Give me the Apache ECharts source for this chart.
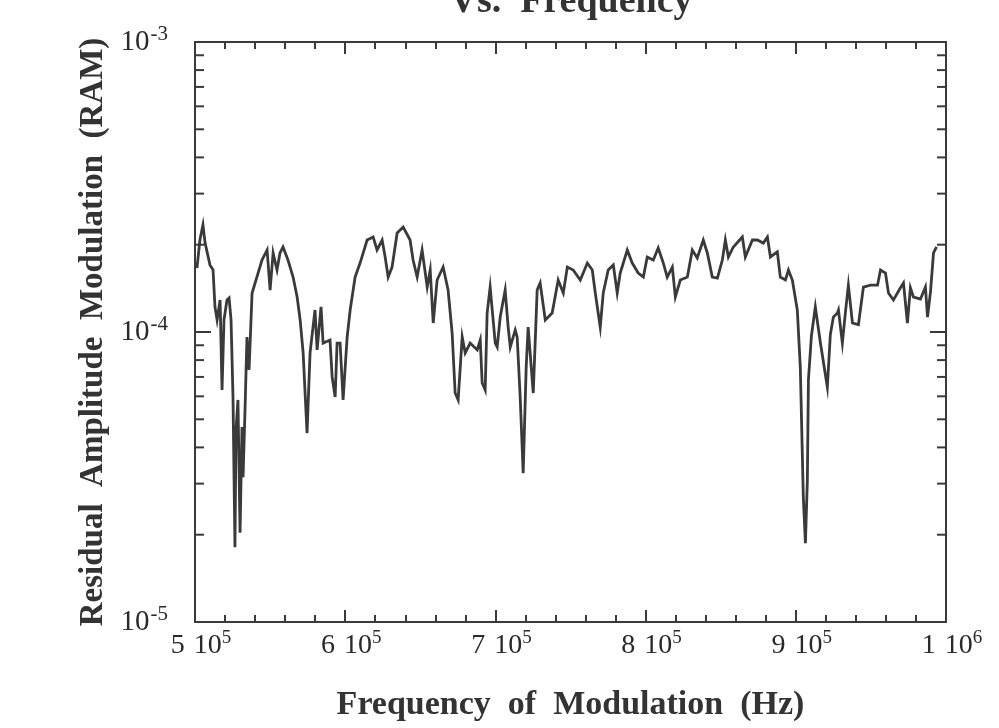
<!DOCTYPE html>
<html><head><meta charset="utf-8">
<script src="https://cdn.jsdelivr.net/npm/echarts@6/dist/echarts.min.js"></script>
<style>html,body{margin:0;padding:0;background:#fff}#c{width:999px;height:728px}</style>
</head><body><div id="c"></div>
<script>
// ---- data ----
const freqHz = [
 501300,503300,505300,506700,510000,512000,513300,514700,516700,518000,
 519300,521300,522700,524000,525300,526600,527300,528600,530000,531300,
 532000,533300,534600,536000,538000,542000,544600,548000,550000,552000,
 554600,556600,558600,561900,565300,568000,570000,572000,574600,576600,
 579900,581300,583900,585300,589900,591300,593300,594600,596600,598600,
 601300,603300,606600,609900,614600,618600,621200,624600,626600,628600,
 631200,634600,638600,643200,645200,647900,651200,654600,656600,658600,
 661200,665200,668500,671200,673200,675200,677900,679900,683200,687900,
 689900,691200,693200,694500,696500,699900,701200,703200,706500,708500,
 709900,713200,714500,716500,718500,720500,721800,725200,727800,729800,
 733200,737800,741800,745200,747900,751800,756500,761200,764500,766500,
 769800,771800,775100,778500,781100,783100,787800,791100,795100,798500,
 801100,805100,808400,811800,814400,817800,819800,823100,827800,831100,
 834400,838400,841100,844400,847800,851100,853100,855100,858400,864400,
 866400,871100,874400,878400,881100,883100,887700,889700,893100,895100,
 897700,901000,903000,905000,906400,907700,908400,910400,913000,916400,
 921000,923000,925000,927700,928400,931000,933000,935000,937700,941700,
 945000,949700,954400,956400,959700,961700,965000,969700,971700,974300,
 976300,978300,983000,986300,987700,989700,991700,993700
];
const ram = [
 1.66e-4,2.08e-4,2.34e-4,2.03e-4,1.70e-4,1.64e-4,1.22e-4,1.10e-4,1.29e-4,0.631e-4,
 1.10e-4,1.29e-4,1.31e-4,1.10e-4,0.597e-4,0.181e-4,0.459e-4,0.583e-4,0.203e-4,0.470e-4,
 0.316e-4,0.538e-4,0.961e-4,0.740e-4,1.363e-4,1.597e-4,1.771e-4,1.918e-4,1.395e-4,1.873e-4,
 1.636e-4,1.873e-4,1.964e-4,1.771e-4,1.547e-4,1.320e-4,1.100e-4,0.847e-4,0.448e-4,0.847e-4,
 1.191e-4,0.867e-4,1.220e-4,0.916e-4,0.938e-4,0.700e-4,0.597e-4,0.916e-4,0.916e-4,0.583e-4,
 0.961e-4,1.191e-4,1.547e-4,1.729e-4,2.076e-4,2.127e-4,1.918e-4,2.076e-4,1.814e-4,1.547e-4,
 1.675e-4,2.195e-4,2.30e-4,2.076e-4,1.771e-4,1.547e-4,1.918e-4,1.429e-4,1.636e-4,1.074e-4,
 1.511e-4,1.675e-4,1.395e-4,0.992e-4,0.616e-4,0.583e-4,0.961e-4,0.847e-4,0.916e-4,0.867e-4,
 0.938e-4,0.667e-4,0.631e-4,1.163e-4,1.429e-4,0.916e-4,0.888e-4,1.126e-4,1.395e-4,1.040e-4,
 0.888e-4,1.016e-4,0.961e-4,0.597e-4,0.326e-4,0.757e-4,1.040e-4,0.616e-4,1.395e-4,1.476e-4,
 1.100e-4,1.163e-4,1.511e-4,1.363e-4,1.675e-4,1.636e-4,1.511e-4,1.729e-4,1.636e-4,1.363e-4,
 1.040e-4,1.363e-4,1.636e-4,1.702e-4,1.363e-4,1.597e-4,1.918e-4,1.729e-4,1.597e-4,1.547e-4,
 1.814e-4,1.771e-4,1.949e-4,1.729e-4,1.547e-4,1.675e-4,1.320e-4,1.511e-4,1.547e-4,1.918e-4,
 1.80e-4,2.076e-4,1.873e-4,1.547e-4,1.535e-4,1.771e-4,2.076e-4,1.814e-4,1.964e-4,2.127e-4,
 1.814e-4,2.076e-4,2.076e-4,2.026e-4,2.127e-4,1.814e-4,1.89e-4,1.547e-4,1.511e-4,1.636e-4,
 1.511e-4,1.191e-4,0.757e-4,0.270e-4,0.187e-4,0.309e-4,0.683e-4,0.97e-4,1.220e-4,0.916e-4,
 0.646e-4,0.98e-4,1.126e-4,1.163e-4,1.19e-4,0.916e-4,1.163e-4,1.45e-4,1.074e-4,1.06e-4,
 1.429e-4,1.45e-4,1.45e-4,1.636e-4,1.597e-4,1.363e-4,1.289e-4,1.42e-4,1.476e-4,1.074e-4,
 1.42e-4,1.320e-4,1.30e-4,1.429e-4,1.126e-4,1.38e-4,1.873e-4,1.964e-4
];
const xRange = [500000, 1000000];
const xStep = 100000;
const yRange = [1e-5, 1e-3];
const yMinorTicks = [2e-5,3e-5,4e-5,5e-5,6e-5,7e-5,8e-5,9e-5,2e-4,3e-4,4e-4,5e-4,6e-4,7e-4,8e-4,9e-4];
const titleText = 'Vs.  Frequency';
const xName = 'Frequency  of  Modulation  (Hz)';
const yName = 'Residual  Amplitude  Modulation  (RAM)';

const FONT = "'Liberation Serif','Times New Roman',serif";
const INK = '#3a3a3a';
const TXT = '#2a2a2a';
const chart = echarts.init(document.getElementById('c'), null, {renderer: 'canvas'});

function xLabel(v) {
  const e = Math.floor(Math.log10(v) + 1e-9);
  const m = Math.round(v / Math.pow(10, e));
  return '{m|' + m + '}{n|10}{s|' + e + '}';
}
function yLabel(v) {
  const e = Math.round(Math.log10(v));
  return '{n|10}{s|' + e + '}';
}
const richX = {
  m: {fontFamily: FONT, fontSize: 28, color: TXT, lineHeight: 32, padding: [0, 9, 0, 12]},
  n: {fontFamily: FONT, fontSize: 28, color: TXT, lineHeight: 32},
  s: {fontFamily: FONT, fontSize: 19, color: TXT, lineHeight: 32, padding: [0, 0, 16, 0]}
};
const richY = {
  n: {fontFamily: FONT, fontSize: 29, color: TXT, lineHeight: 32},
  s: {fontFamily: FONT, fontSize: 21, color: TXT, lineHeight: 32, padding: [0, 0, 16, 1]}
};

const xCommon = {
  type: 'value', min: xRange[0], max: xRange[1], interval: xStep,
  axisLine: {show: true, lineStyle: {color: INK, width: 2}},
  axisTick: {show: true, inside: true, length: 12, lineStyle: {color: INK, width: 2}},
  minorTick: {show: true, splitNumber: 5, length: 7, lineStyle: {color: INK, width: 2}},
  splitLine: {show: false}, minorSplitLine: {show: false}
};
const yCommon = {
  type: 'log', logBase: 10, min: yRange[0], max: yRange[1],
  axisLine: {show: true, lineStyle: {color: INK, width: 2}},
  axisTick: {show: true, inside: true, length: 16, lineStyle: {color: INK, width: 2}},
  splitLine: {show: false}
};

const option = {
  backgroundColor: '#fff',
  animation: false,
  title: {
    text: titleText, left: 571, top: -17, textAlign: 'center',
    textStyle: {fontFamily: FONT, fontWeight: 'bold', fontSize: 38, color: '#333'},
    padding: 0, itemGap: 0
  },
  grid: {left: 195, right: 53, top: 42, bottom: 106, containLabel: false},
  xAxis: [
    Object.assign({}, xCommon, {
      position: 'bottom',
      name: xName, nameLocation: 'middle', nameGap: 66,
      nameTextStyle: {fontFamily: FONT, fontWeight: 'bold', fontSize: 34, color: '#333'},
      axisLabel: {show: true, margin: 8, formatter: xLabel, rich: richX}
    }),
    Object.assign({}, xCommon, {position: 'top', axisLabel: {show: false}})
  ],
  yAxis: [
    Object.assign({}, yCommon, {
      position: 'left',
      name: yName, nameLocation: 'middle', nameGap: 83, nameRotate: 90,
      nameTextStyle: {fontFamily: FONT, fontWeight: 'bold', fontSize: 33, color: '#333'},
      axisLabel: {show: true, margin: 27, formatter: yLabel, rich: richY}
    }),
    Object.assign({}, yCommon, {position: 'right', axisLabel: {show: false}})
  ],
  series: [
    {
      type: 'line', xAxisIndex: 0, yAxisIndex: 0,
      data: freqHz.map((f, i) => [f, ram[i]]),
      showSymbol: false, symbol: 'none',
      lineStyle: {color: INK, width: 2.8, join: 'miter'},
      z: 5
    },
    {
      type: 'custom', xAxisIndex: 0, yAxisIndex: 0, silent: true,
      data: yMinorTicks.map(v => [v]),
      renderItem: function (params, api) {
        const v = api.value(0);
        const pL = api.coord([xRange[0], v]);
        const pR = api.coord([xRange[1], v]);
        const st = {stroke: INK, lineWidth: 2};
        return {
          type: 'group',
          children: [
            {type: 'line', shape: {x1: pL[0], y1: pL[1], x2: pL[0] + 9, y2: pL[1]}, style: st},
            {type: 'line', shape: {x1: pR[0], y1: pR[1], x2: pR[0] - 9, y2: pR[1]}, style: st}
          ]
        };
      },
      z: 4
    }
  ]
};
chart.setOption(option);
</script>
</body></html>
